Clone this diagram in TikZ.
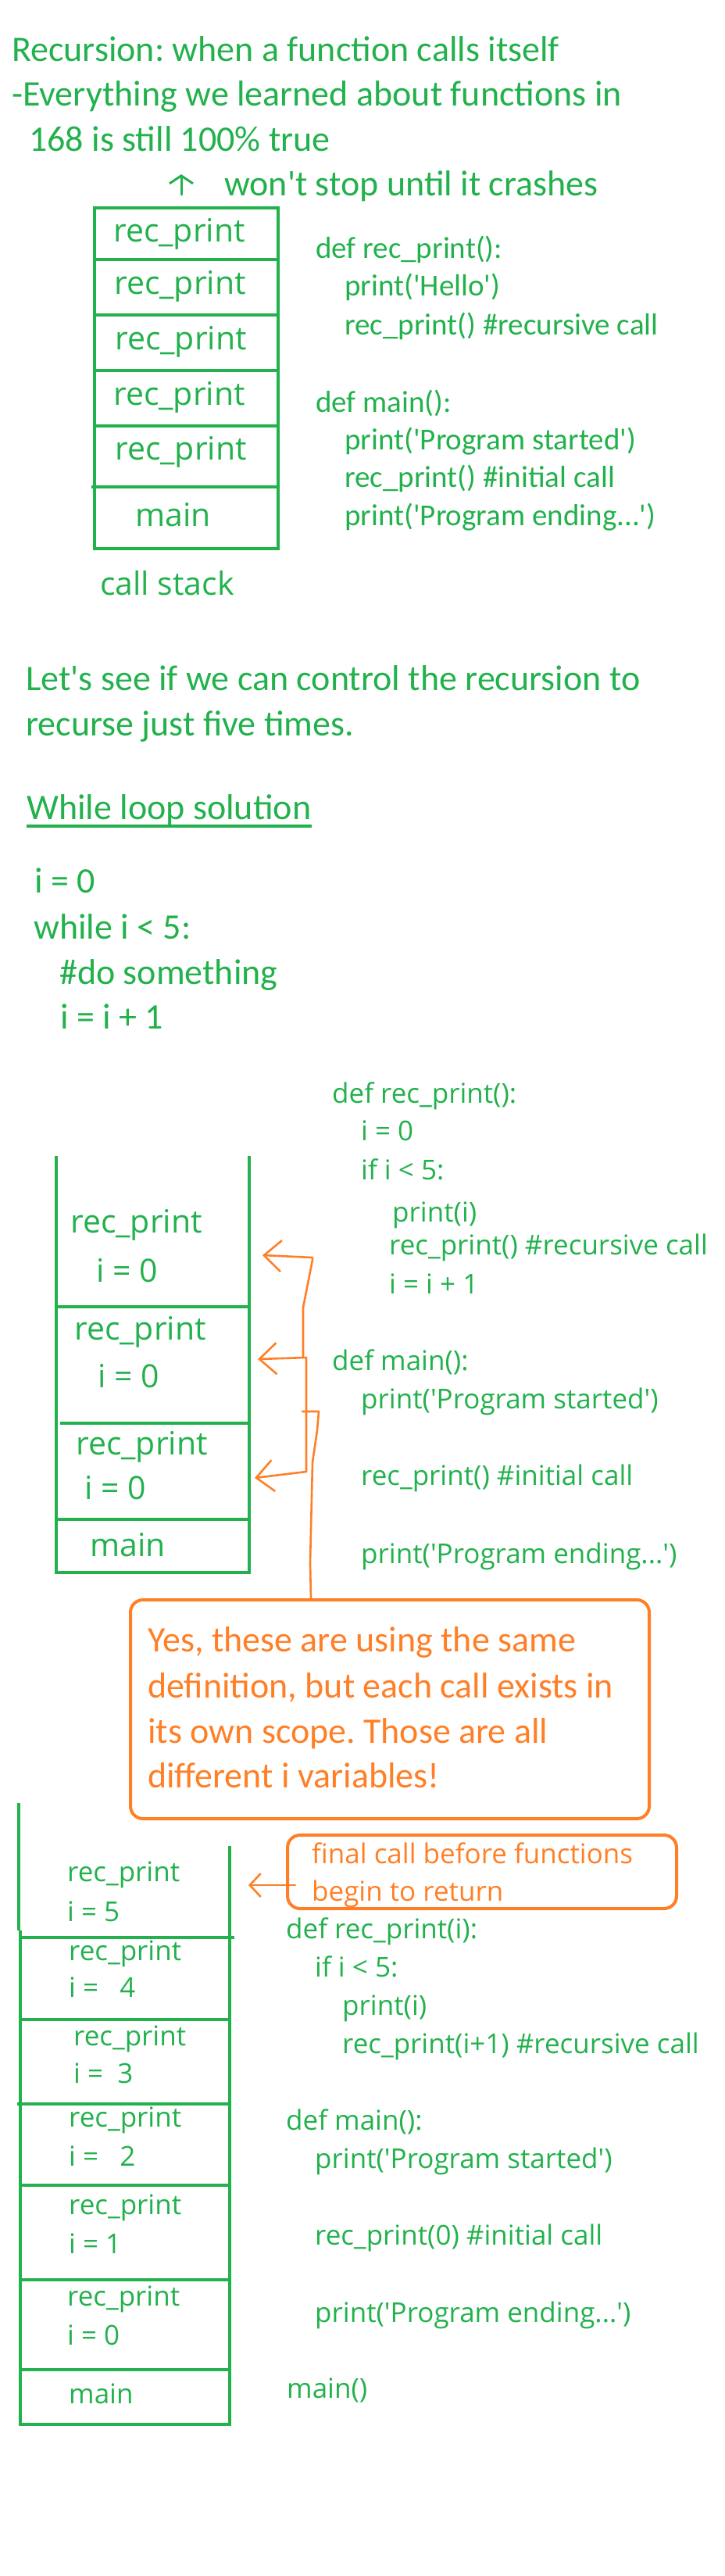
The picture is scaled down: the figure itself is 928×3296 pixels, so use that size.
\documentclass[tikz,border=0pt]{standalone}
\usepackage{fontspec}
\setmainfont{Carlito}[Ligatures=TeXOff]
\newfontfamily\opensans{Open Sans}[Ligatures=TeXOff]
\usetikzlibrary{arrows.meta}
\definecolor{pengreen}{HTML}{22B14C}
\definecolor{penorange}{HTML}{FF7F27}
\frenchspacing

\begin{document}
\begin{tikzpicture}[x=1pt,y=-1pt]
    \tikzstyle{big}=[anchor=base west,inner sep=0pt,text=pengreen,font=\fontsize{46}{54}\selectfont]
    \tikzstyle{code}=[anchor=base west,inner sep=0pt,text=pengreen,font=\fontsize{39}{47}\selectfont]
    \tikzstyle{oscode}=[anchor=base west,inner sep=0pt,text=pengreen,font=\opensans\fontsize{35}{42}\selectfont]
    \tikzstyle{slot}=[anchor=base west,inner sep=0pt,text=pengreen,font=\opensans\fontsize{41}{48}\selectfont]
    \tikzstyle{stack}=[draw=pengreen,line width=4pt]
    \tikzstyle{pen}=[draw=penorange,line width=2.6pt,line cap=round,line join=round]
    \tikzstyle{note}=[draw=penorange,line width=4pt,rounded corners=16pt]
    \tikzstyle{notetext}=[anchor=base west,inner sep=0pt,text=penorange,font=\fontsize{46}{54}\selectfont]
    \tikzstyle{barb}=[-{Straight Barb[length=22pt,width=40pt]}]

    \useasboundingbox (0,0) rectangle (928,3296);

    % intro
    \node[big] (intro1) at (15,78) {Recursion: when a function calls itself};
    \node[big] (intro2) at (15,135) {-Everything we learned about functions in};
    \node[big] (intro3) at (37,193) {168 is still 100\% true};
    \node[big] (crash) at (287,250) {won't stop until it crashes};
    \coordinate (upfoot) at (232,249);
    \coordinate (uptip) at (232,223);
    \draw[draw=pengreen,line width=3pt,line cap=round,-{Straight Barb[length=10pt,width=30pt]}] (upfoot) -- (uptip);

    % first call stack
    \draw[stack] (121,266) rectangle (356,702);
    \draw[stack] (121,332) -- (356,332);
    \draw[stack] (121,403) -- (356,403);
    \draw[stack] (121,474) -- (356,474);
    \draw[stack] (121,545) -- (356,545);
    \draw[stack] (117,623) -- (356,623);
    \node[slot] (frameA) at (145,309) {rec\_print};
    \node[slot] (frameB) at (146,376) {rec\_print};
    \node[slot] (frameC) at (147,447) {rec\_print};
    \node[slot] (frameD) at (145,518) {rec\_print};
    \node[slot] (frameE) at (147,588) {rec\_print};
    \node[slot] (frameM) at (173,673) {main};
    \node[slot] (callstack) at (128,761) {call stack};

    \node[code] (c1) at (404,330) {def rec\_print():};
    \node[code] (c2) at (441,378) {print('Hello')};
    \node[code] (c3) at (441,428) {rec\_print() \#recursive call};
    \node[code] (c4) at (404,527) {def main():};
    \node[code] (c5) at (441,575) {print('Program started')};
    \node[code] (c6) at (441,623) {rec\_print() \#initial call};
    \node[code] (c7) at (441,672) {print('Program ending...')};

    % five times
    \node[big] (five1) at (33,883) {Let's see if we can control the recursion to};
    \node[big] (five2) at (33,941) {recurse just five times.};
    \node[big] (loophead) at (34,1048) {While loop solution};
    \draw[draw=pengreen,line width=3.5pt] ([yshift=-9pt]loophead.base west) -- ([yshift=-9pt]loophead.base east);
    \node[big] (w1) at (44,1142) {i = 0};
    \node[big] (w2) at (43,1201) {while i < 5:};
    \node[big] (w3) at (76,1259) {\#do something};
    \node[big] (w4) at (77,1316) {i = i + 1};

    % second call stack
    \draw[stack] (72,1479) -- (72,2012) -- (319,2012) -- (319,1479);
    \draw[stack] (72,1672) -- (319,1672);
    \draw[stack] (77,1821) -- (319,1821);
    \draw[stack] (72,1944) -- (319,1944);
    \node[slot] (rp1) at (90,1577) {rec\_print};
    \node[slot] (iv1) at (123,1640) {i = 0};
    \node[slot] (rp2) at (95,1714) {rec\_print};
    \node[slot] (iv2) at (125,1775) {i = 0};
    \node[slot] (rp3) at (97,1861) {rec\_print};
    \node[slot] (iv3) at (108,1918) {i = 0};
    \node[slot] (rpm) at (115,1991) {main};

    \node[oscode] (d1) at (425,1411) {def rec\_print():};
    \node[oscode] (d2) at (462,1459) {i = 0};
    \node[oscode] (d3) at (462,1509) {if i < 5:};
    \node[oscode] (d4) at (502,1563) {print(i)};
    \node[oscode] (d5) at (498,1605) {rec\_print() \#recursive call};
    \node[oscode] (d6) at (498,1655) {i = i + 1};
    \node[oscode] (d7) at (425,1753) {def main():};
    \node[oscode] (d8) at (462,1802) {print('Program started')};
    \node[oscode] (d9) at (462,1900) {rec\_print() \#initial call};
    \node[oscode] (d10) at (462,2000) {print('Program ending...')};

    \coordinate (hit1) at (336,1606);
    \coordinate (hit2) at (330,1739);
    \coordinate (hit3) at (326,1891);
    \coordinate (boxtop) at (398,2045);
    \draw[pen,barb] (388,1737) -- (388,1673) -- (400,1612) -- (400,1609) -- (hit1);
    \draw[pen,barb] (392,1883) -- (392,1737) -- (hit2);
    \draw[pen,barb] (392,1883) -- (hit3);
    \draw[pen] (387,1806) -- (408,1806) -- (406,1830) -- (400,1871) -- (397,2000) -- (boxtop);

    \node[note,minimum width=664pt,minimum height=280pt] (scopebox) at (499,2187) {};
    \node[notetext] (n1) at (189,2113) {Yes, these are using the same};
    \node[notetext] (n2) at (189,2172) {definition, but each call exists in};
    \node[notetext] (n3) at (189,2230) {its own scope. Those are all};
    \node[notetext] (n4) at (189,2287) {different i variables!};

    % third call stack
    \draw[stack] (24,2307) -- (24,2470);
    \draw[stack] (26,2470) -- (26,3102) -- (294,3102) -- (294,2362);
    \draw[stack] (26,2479) -- (300,2479);
    \draw[stack] (26,2584) -- (294,2584);
    \draw[stack] (22,2692) -- (294,2692);
    \draw[stack] (26,2796) -- (294,2796);
    \draw[stack] (26,2917) -- (294,2917);
    \draw[stack] (26,3032) -- (294,3032);
    \node[oscode] (r5) at (86,2407) {rec\_print};
    \node[oscode] (i5) at (86,2458) {i = 5};
    \node[oscode] (r4) at (88,2508) {rec\_print};
    \node[oscode] (i4) at (88,2555) {i = \ \ 4};
    \node[oscode] (r3) at (94,2617) {rec\_print};
    \node[oscode] (i3) at (94,2665) {i = \ 3};
    \node[oscode] (r2) at (88,2721) {rec\_print};
    \node[oscode] (i2) at (88,2771) {i = \ \ 2};
    \node[oscode] (r1) at (88,2833) {rec\_print};
    \node[oscode] (i1) at (88,2883) {i = 1};
    \node[oscode] (r0) at (86,2950) {rec\_print};
    \node[oscode] (i0) at (86,3000) {i = 0};
    \node[oscode] (rmain) at (88,3075) {main};

    \node[note,minimum width=498pt,minimum height=94pt] (finalbox) at (617,2395) {};
    \node[oscode,text=penorange] (f1) at (399,2384) {final call before functions};
    \node[oscode,text=penorange] (f2) at (399,2432) {begin to return};
    \coordinate (finalfoot) at (378,2412);
    \coordinate (finalhit) at (318,2412);
    \draw[pen,-{Straight Barb[length=14pt,width=30pt]}] (finalfoot) -- (finalhit);

    \node[oscode] (e1) at (366,2480) {def rec\_print(i):};
    \node[oscode] (e2) at (403,2529) {if i < 5:};
    \node[oscode] (e3) at (438,2578) {print(i)};
    \node[oscode] (e4) at (438,2627) {rec\_print(i+1) \#recursive call};
    \node[oscode] (e5) at (366,2725) {def main():};
    \node[oscode] (e6) at (403,2774) {print('Program started')};
    \node[oscode] (e7) at (403,2872) {rec\_print(0) \#initial call};
    \node[oscode] (e8) at (403,2971) {print('Program ending...')};
    \node[oscode] (e9) at (367,3068) {main()};
\end{tikzpicture}
\end{document}
